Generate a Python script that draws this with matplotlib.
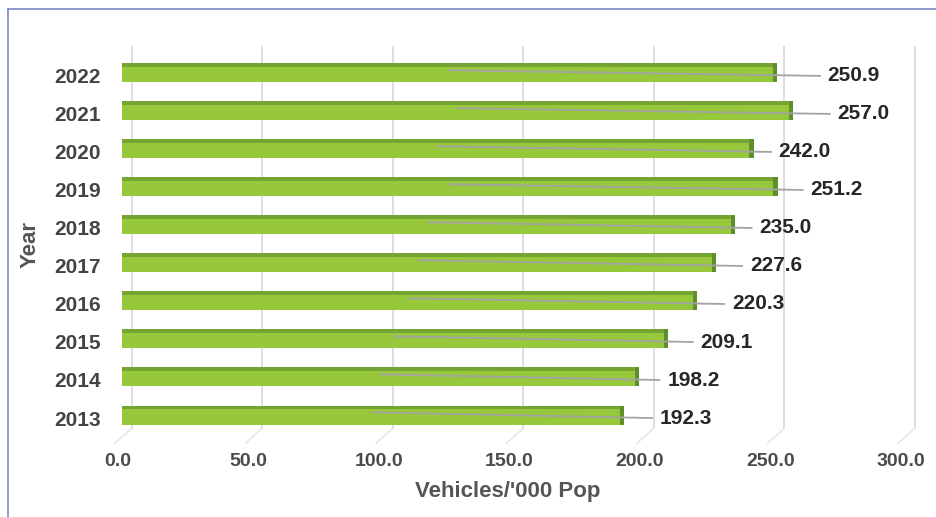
import matplotlib
matplotlib.use("Agg")
from matplotlib import pyplot as plt
from matplotlib.lines import Line2D
from matplotlib.transforms import ScaledTranslation

years = [2013, 2014, 2015, 2016, 2017, 2018, 2019, 2020, 2021, 2022]
vehicles = [192.3, 198.2, 209.1, 220.3, 227.6, 235.0, 251.2, 242.0, 257.0, 250.9]
# gap between bar end and its value label
label_gap = [13.8, 10.7, 12.6, 13.4, 13.0, 9.2, 12.6, 9.6, 17.2, 19.5]
x_ticks = [0, 50, 100, 150, 200, 250, 300]

plt.rcParams['font.family'] = ['Liberation Sans', 'DejaVu Sans']

W, H = 937, 517
fig = plt.figure(figsize=(W / 100, H / 100), dpi=100)
ax = fig.add_axes([122 / W, 1 - 442 / H, (905 - 122) / W, (442 - 47) / H])
ax.set_xlim(0, 300)
ax.set_ylim(-0.71, 9.68)
for s in ax.spines.values():
    s.set_visible(False)

# 3d-ish grid: back wall lines plus a short diagonal to the floor front
tr = ax.get_xaxis_transform()
for t in x_ticks:
    ax.plot([t + 3.8, t + 3.8], [1.0, 0.035], transform=tr, color='#dedede',
            lw=1.4, clip_on=False, zorder=0)
    ax.plot([t + 3.8, t - 2.7], [0.035, -0.003], transform=tr, color='#e6e6e6',
            lw=1.1, clip_on=False, zorder=0)

pos = list(range(len(years)))
ax.barh(pos, vehicles, height=0.5, color='#97c83c', zorder=2)
ax.barh([p + 0.2 for p in pos], vehicles, height=0.1, color='#74a431', zorder=3)
ax.barh(pos, [1.6] * len(pos), left=[v - 1.6 for v in vehicles], height=0.5,
        color='#5f8f2a', zorder=3)

for p, v, g in zip(pos, vehicles, label_gap):
    ax.plot([v / 2, v + g - 3], [p + 0.07, p - 0.08], color='#a3a3a3', lw=1.3, zorder=4)
    ax.text(v + g, p - 0.08, f"{v:.1f}", va='center', ha='left', fontsize=15,
            fontweight='bold', color='#262626', zorder=5)

ax.set_xticks(x_ticks)
ax.set_xticklabels([f"{t:.1f}" for t in x_ticks], fontsize=14, fontweight='bold',
                   color='#4a4a4a')
ax.set_yticks(pos)
ax.set_yticklabels([str(y) for y in years], fontsize=15, fontweight='bold',
                   color='#444444')
ax.tick_params(axis='x', length=0, pad=8)
ax.tick_params(axis='y', length=0, pad=15)
for lab in ax.get_xticklabels():
    lab.set_transform(lab.get_transform() + ScaledTranslation(-4 / 100, 0, fig.dpi_scale_trans))
for lab in ax.get_yticklabels():
    lab.set_transform(lab.get_transform() + ScaledTranslation(0, -3 / 100, fig.dpi_scale_trans))

fig.text(508 / W, 1 - 491 / H, "Vehicles/'000 Pop", ha='center', va='center',
         fontsize=16, fontweight='bold', color='#555555')
fig.text(30 / W, 1 - 244 / H, 'Year', ha='center', va='center', rotation=90,
         fontsize=16, fontweight='bold', color='#555555')

# frame of the original box
fig.add_artist(Line2D([8 / W, 8 / W], [0, 1 - 9 / H], color='#7b8ac6', lw=1.2))
fig.add_artist(Line2D([8 / W, 1], [1 - 9 / H, 1 - 9 / H], color='#7b8ac6', lw=1.2))

fig.savefig('out.png', dpi=100)
